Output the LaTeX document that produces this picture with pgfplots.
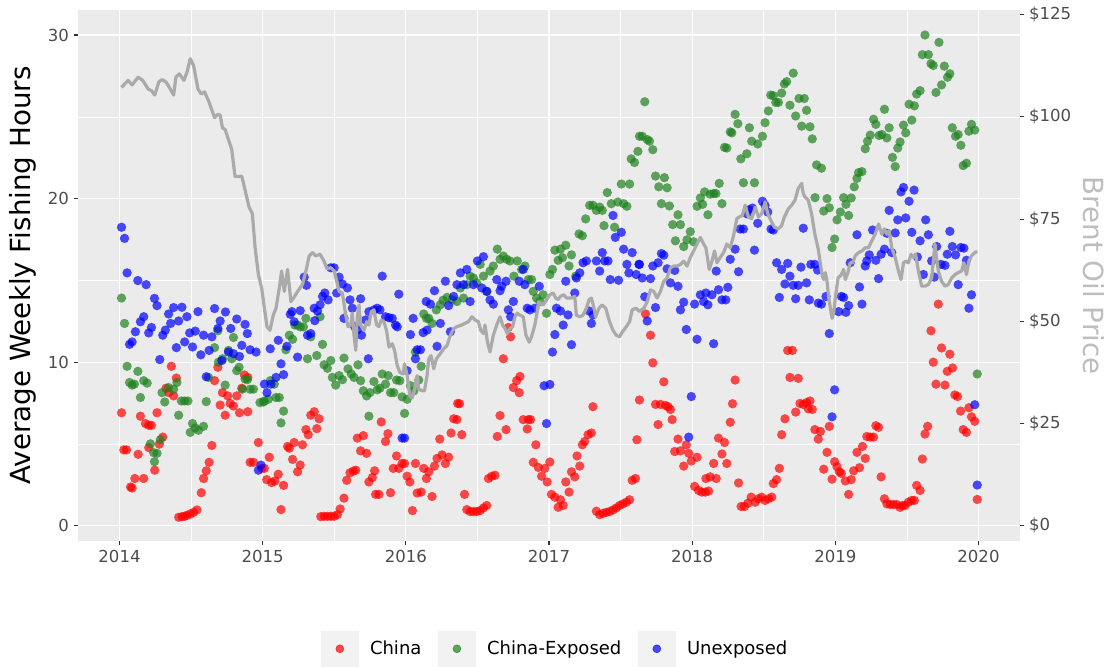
\documentclass[border=0pt]{standalone}
\usepackage{fontspec}
\setmainfont{DejaVu Sans}
\usepackage{pgfplots}
\usepackage{pgfplotstable}
\pgfplotsset{compat=1.18}

\definecolor{panelbg}{RGB}{235,235,235}
\definecolor{keybg}{RGB}{242,242,242}
\definecolor{labelcol}{RGB}{77,77,77}
\definecolor{tickcol}{RGB}{51,51,51}
\definecolor{oilcol}{RGB}{170,170,170}
\definecolor{oillab}{RGB}{190,190,190}
\definecolor{chinared}{RGB}{255,0,0}
\definecolor{expgreen}{RGB}{30,130,30}
\definecolor{unexblue}{RGB}{0,0,255}

\pgfplotsset{
  keyimg/.style={legend image code/.code={
      \fill[keybg,opacity=1] (0pt,-13.5pt) rectangle (27.75pt,13.5pt);
      \fill[#1,opacity=0.7] (13.9pt,0pt) circle (3pt);}},
  dots/.style={only marks, mark=*, mark size=3.5pt,
      mark options={fill=#1, fill opacity=0.7, draw opacity=0}, keyimg=#1},
}

% China
\pgfplotstableread{
t h
2014.014 6.91
2014.030 4.64
2014.049 4.64
2014.077 2.37
2014.088 2.31
2014.107 2.89
2014.130 4.37
2014.146 6.70
2014.169 2.89
2014.181 6.25
2014.204 6.14
2014.223 6.14
2014.204 4.78
2014.246 3.40
2014.262 6.91
2014.278 4.99
2014.302 5.42
2014.325 8.41
2014.343 8.14
2014.362 9.75
2014.378 7.94
2014.397 9.03
2014.413 0.52
2014.436 0.56
2014.455 0.58
2014.471 0.64
2014.494 0.72
2014.517 0.82
2014.541 0.97
2014.571 2.02
2014.587 2.89
2014.606 3.36
2014.626 3.88
2014.645 4.91
2014.664 8.87
2014.687 9.69
2014.703 7.38
2014.719 8.14
2014.738 6.76
2014.756 7.94
2014.773 7.48
2014.796 7.32
2014.819 7.94
2014.838 6.91
2014.854 8.41
2014.872 9.22
2014.896 9.07
2014.896 6.97
2014.912 3.88
2014.935 3.88
2014.970 5.09
2014.993 3.51
2015.012 3.51
2015.028 2.82
2015.046 4.19
2015.063 2.64
2015.086 2.74
2015.109 3.15
2015.128 0.99
2015.146 2.47
2015.174 4.85
2015.186 4.74
2015.209 4.06
2015.220 5.09
2015.244 3.30
2015.262 3.71
2015.278 4.95
2015.302 5.88
2015.318 5.57
2015.336 6.76
2015.360 6.97
2015.378 5.94
2015.394 6.54
2015.406 0.56
2015.429 0.58
2015.452 0.58
2015.476 0.58
2015.499 0.58
2015.522 0.68
2015.541 1.03
2015.568 1.69
2015.587 2.78
2015.610 3.24
2015.633 3.34
2015.650 3.40
2015.661 5.36
2015.684 4.58
2015.703 5.51
2015.726 4.43
2015.742 2.68
2015.766 2.95
2015.782 3.36
2015.789 1.92
2015.812 1.92
2015.828 6.35
2015.858 5.15
2015.875 5.63
2015.893 2.02
2015.912 3.51
2015.935 4.27
2015.951 3.51
2015.974 3.81
2015.991 3.81
2016.009 3.03
2016.028 2.68
2016.046 0.93
2016.067 3.81
2016.079 2.00
2016.107 2.06
2016.125 3.51
2016.144 2.89
2016.160 3.30
2016.183 1.79
2016.200 3.65
2016.218 4.12
2016.237 5.30
2016.253 4.33
2016.276 3.81
2016.299 4.19
2016.316 5.67
2016.334 6.54
2016.357 6.49
2016.362 7.48
2016.375 7.46
2016.391 5.57
2016.410 1.92
2016.426 0.99
2016.449 0.87
2016.472 0.87
2016.495 0.87
2016.519 0.93
2016.542 1.09
2016.565 1.24
2016.577 2.89
2016.600 3.03
2016.623 3.09
2016.639 5.46
2016.658 6.74
2016.681 10.21
2016.700 5.88
2016.716 12.12
2016.732 11.55
2016.751 8.45
2016.774 8.87
2016.792 8.14
2016.797 9.13
2016.820 6.49
2016.848 5.92
2016.855 6.49
2016.871 6.49
2016.890 3.88
2016.908 4.95
2016.925 3.57
2016.948 3.03
2016.971 3.51
2016.987 2.68
2017.006 3.90
2017.017 1.92
2017.041 1.75
2017.064 1.13
2017.080 1.59
2017.099 1.24
2017.117 2.68
2017.140 2.06
2017.157 3.30
2017.180 2.99
2017.196 4.27
2017.215 3.65
2017.233 4.95
2017.249 5.15
2017.273 5.57
2017.296 5.67
2017.307 7.28
2017.331 0.89
2017.354 0.68
2017.377 0.76
2017.400 0.82
2017.423 0.87
2017.447 0.97
2017.470 1.09
2017.493 1.24
2017.516 1.34
2017.540 1.44
2017.563 1.59
2017.581 2.78
2017.604 2.89
2017.614 5.26
2017.632 7.69
2017.674 12.95
2017.709 11.65
2017.725 9.96
2017.744 7.42
2017.762 6.19
2017.778 7.42
2017.802 8.80
2017.813 7.36
2017.832 7.28
2017.848 7.11
2017.860 6.49
2017.878 4.54
2017.901 5.30
2017.918 4.58
2017.941 3.65
2017.959 4.95
2017.976 4.43
2017.994 3.96
2018.017 2.41
2018.034 4.19
2018.045 2.16
2018.068 2.06
2018.092 2.06
2018.096 2.89
2018.115 2.12
2018.126 2.99
2018.150 3.81
2018.168 2.89
2018.184 5.36
2018.208 4.39
2018.226 5.09
2018.242 3.81
2018.266 6.33
2018.282 7.46
2018.300 8.91
2018.324 2.62
2018.342 1.18
2018.365 1.18
2018.389 1.38
2018.412 1.75
2018.440 1.44
2018.463 1.65
2018.486 1.75
2018.509 1.55
2018.532 1.65
2018.556 1.75
2018.567 2.58
2018.590 2.82
2018.609 3.51
2018.625 5.57
2018.648 6.54
2018.667 10.72
2018.700 10.72
2018.683 9.07
2018.741 9.01
2018.723 6.95
2018.753 7.48
2018.776 7.42
2018.799 7.53
2018.823 7.63
2018.811 7.15
2018.839 7.11
2018.857 5.88
2018.881 5.30
2018.896 5.77
2018.919 3.46
2018.942 4.49
2018.958 6.08
2018.977 2.85
2018.995 3.92
2019.012 3.61
2019.028 3.30
2019.042 3.20
2019.070 2.74
2019.093 1.92
2019.111 2.82
2019.128 3.36
2019.151 4.49
2019.169 3.55
2019.190 4.85
2019.209 4.12
2019.220 5.46
2019.244 5.42
2019.267 5.42
2019.283 6.12
2019.302 6.02
2019.320 2.99
2019.343 1.65
2019.360 1.34
2019.383 1.30
2019.406 1.30
2019.429 1.30
2019.452 1.13
2019.469 1.24
2019.487 1.24
2019.510 1.44
2019.534 1.55
2019.552 1.55
2019.568 2.47
2019.592 2.16
2019.608 4.08
2019.626 5.61
2019.645 6.08
2019.668 11.92
2019.684 10.00
2019.703 8.66
2019.719 13.55
2019.742 10.87
2019.766 8.60
2019.782 9.44
2019.800 10.49
2019.819 9.65
2019.835 8.00
2019.854 7.90
2019.875 7.01
2019.893 5.88
2019.916 5.71
2019.933 7.22
2019.951 6.66
2019.974 6.39
2019.991 1.61
}\chinadata

% China-Exposed
\pgfplotstableread{
t h
2014.014 13.92
2014.035 12.37
2014.053 9.75
2014.128 9.44
2014.070 8.76
2014.088 8.60
2014.104 8.66
2014.146 7.84
2014.169 8.87
2014.193 8.72
2014.216 5.01
2014.239 4.47
2014.262 4.43
2014.244 3.92
2014.285 5.26
2014.297 8.14
2014.316 7.57
2014.343 8.45
2014.378 8.35
2014.401 8.76
2014.413 6.76
2014.432 7.63
2014.455 7.63
2014.478 7.63
2014.510 6.25
2014.494 5.71
2014.529 5.98
2014.552 5.84
2014.587 6.08
2014.606 7.59
2014.622 9.07
2014.664 10.89
2014.687 11.92
2014.691 10.00
2014.719 10.21
2014.738 8.60
2014.761 10.72
2014.784 10.21
2014.796 11.51
2014.819 9.48
2014.835 9.69
2014.858 8.35
2014.877 8.97
2014.893 8.93
2014.912 8.35
2014.935 8.35
2014.981 7.53
2015.005 7.57
2015.012 7.63
2015.039 7.73
2015.053 8.87
2015.081 8.66
2015.093 7.84
2015.116 7.84
2015.128 6.29
2015.146 7.01
2015.162 10.76
2015.186 11.65
2015.209 11.40
2015.225 12.27
2015.244 12.27
2015.262 12.16
2015.285 12.16
2015.302 12.68
2015.313 10.21
2015.336 11.55
2015.378 10.41
2015.401 12.78
2015.418 11.09
2015.429 9.84
2015.452 9.63
2015.476 10.10
2015.487 9.07
2015.510 8.60
2015.534 9.18
2015.557 8.93
2015.568 10.25
2015.596 9.59
2015.619 9.28
2015.638 9.07
2015.666 9.84
2015.684 8.87
2015.703 8.25
2015.726 7.94
2015.742 6.70
2015.749 8.14
2015.777 8.82
2015.800 8.31
2015.819 8.41
2015.835 9.28
2015.858 8.66
2015.877 9.18
2015.893 8.14
2015.916 8.14
2015.935 8.91
2015.958 8.87
2015.974 7.88
2015.991 6.87
2016.009 7.73
2016.032 8.56
2016.056 8.25
2016.067 10.62
2016.090 8.91
2016.107 9.75
2016.125 12.95
2016.144 12.68
2016.160 12.68
2016.183 12.37
2016.213 13.20
2016.241 13.51
2016.260 13.79
2016.288 13.96
2016.323 13.81
2016.357 13.71
2016.381 14.54
2016.403 13.92
2016.426 14.74
2016.449 15.26
2016.472 15.15
2016.495 14.85
2016.519 15.98
2016.542 15.26
2016.565 14.33
2016.588 15.57
2016.611 15.88
2016.639 16.91
2016.658 16.29
2016.681 16.49
2016.704 16.29
2016.727 16.19
2016.755 15.26
2016.778 16.19
2016.809 15.67
2016.832 15.88
2016.855 15.05
2016.878 15.05
2016.890 14.33
2016.913 13.92
2016.936 13.71
2016.959 14.12
2016.983 12.99
2017.006 15.36
2017.024 15.67
2017.041 16.85
2017.064 16.23
2017.080 16.91
2017.094 16.39
2017.117 17.15
2017.140 15.88
2017.157 16.56
2017.187 15.26
2017.210 17.84
2017.233 17.73
2017.256 18.76
2017.284 19.59
2017.307 19.59
2017.331 19.28
2017.354 19.48
2017.372 19.28
2017.384 18.35
2017.407 20.37
2017.435 19.69
2017.458 18.25
2017.481 19.79
2017.505 20.89
2017.521 19.69
2017.544 19.53
2017.563 20.89
2017.574 22.43
2017.597 22.21
2017.621 22.89
2017.632 23.81
2017.651 23.81
2017.669 25.92
2017.686 23.61
2017.702 23.51
2017.725 22.99
2017.744 21.38
2017.767 20.72
2017.785 19.69
2017.806 21.28
2017.825 20.66
2017.841 19.55
2017.864 18.41
2017.883 17.42
2017.901 19.01
2017.918 18.41
2017.941 17.07
2017.964 17.48
2017.987 17.98
2018.010 17.36
2018.034 19.53
2018.057 20.04
2018.073 19.65
2018.087 20.41
2018.110 19.01
2018.126 20.27
2018.150 20.31
2018.166 20.31
2018.189 20.93
2018.208 19.69
2018.226 23.13
2018.242 23.09
2018.266 24.08
2018.277 24.02
2018.300 25.15
2018.319 24.58
2018.340 22.43
2018.358 20.97
2018.382 22.74
2018.400 24.33
2018.416 23.51
2018.435 20.97
2018.458 23.34
2018.491 23.81
2018.509 24.64
2018.532 25.36
2018.549 26.33
2018.567 26.29
2018.584 25.88
2018.602 25.88
2018.625 26.45
2018.644 27.01
2018.660 27.15
2018.683 25.71
2018.706 27.67
2018.723 25.05
2018.746 26.12
2018.765 24.43
2018.783 26.12
2018.799 25.40
2018.823 24.39
2018.839 23.65
2018.869 22.06
2018.858 20.06
2018.903 21.86
2018.919 19.24
2018.942 20.00
2018.958 19.44
2018.977 17.01
2018.995 17.53
2019.012 18.70
2019.035 19.18
2019.058 20.06
2019.074 19.65
2019.093 18.97
2019.111 20.04
2019.132 20.72
2019.151 21.24
2019.162 21.59
2019.186 21.65
2019.209 23.05
2019.225 23.51
2019.244 23.88
2019.267 24.85
2019.283 24.54
2019.306 23.86
2019.325 23.92
2019.343 25.46
2019.360 23.71
2019.376 24.33
2019.399 22.52
2019.418 21.96
2019.436 23.09
2019.452 23.46
2019.476 24.49
2019.492 24.02
2019.515 25.77
2019.534 24.80
2019.552 25.67
2019.568 26.39
2019.592 26.60
2019.608 28.80
2019.626 30.00
2019.650 28.80
2019.668 28.25
2019.684 28.14
2019.703 26.49
2019.724 29.55
2019.742 26.95
2019.761 28.10
2019.784 27.42
2019.800 27.63
2019.817 24.33
2019.840 23.81
2019.858 23.92
2019.877 23.26
2019.893 22.02
2019.916 22.16
2019.933 24.12
2019.951 24.54
2019.974 24.19
2019.991 9.28
}\exposeddata

% Unexposed
\pgfplotstableread{
t h
2014.014 18.25
2014.035 17.57
2014.053 15.46
2014.128 14.99
2014.186 14.74
2014.244 13.90
2014.262 13.46
2014.343 12.95
2014.378 13.34
2014.436 13.36
2014.169 12.78
2014.146 12.47
2014.223 12.12
2014.204 11.79
2014.111 11.86
2014.088 11.24
2014.070 11.09
2014.320 11.96
2014.302 11.65
2014.357 12.37
2014.413 12.52
2014.471 12.78
2014.548 13.09
2014.664 13.28
2014.740 13.07
2014.819 12.64
2014.877 12.31
2014.893 11.75
2014.703 12.52
2014.687 12.06
2014.777 12.06
2014.490 11.79
2014.529 11.90
2014.587 11.65
2014.645 11.55
2014.455 11.24
2014.397 10.89
2014.510 10.93
2014.568 10.45
2014.626 10.72
2014.854 11.03
2014.912 10.76
2014.954 10.62
2014.761 10.62
2014.796 10.52
2014.838 10.35
2014.715 10.10
2014.281 10.16
2014.606 9.11
2014.970 3.40
2014.988 3.71
2015.012 8.66
2015.030 8.14
2015.058 8.66
2015.093 9.07
2015.128 9.90
2015.146 9.24
2015.053 10.82
2015.109 11.34
2015.169 10.97
2015.244 10.31
2015.313 11.65
2015.336 11.75
2015.364 12.54
2015.360 13.30
2015.383 13.13
2015.401 13.51
2015.418 14.02
2015.434 14.23
2015.457 13.81
2015.193 12.93
2015.204 13.09
2015.262 13.15
2015.220 12.47
2015.290 15.20
2015.306 14.70
2015.476 15.77
2015.499 15.77
2015.534 15.20
2015.557 14.78
2015.592 14.54
2015.517 14.23
2015.610 13.81
2015.626 13.30
2015.684 13.88
2015.568 12.68
2015.661 11.96
2015.643 12.16
2015.690 11.65
2015.719 12.58
2015.742 13.09
2015.777 13.20
2015.800 13.30
2015.819 13.20
2015.858 12.78
2015.882 12.72
2015.905 12.68
2015.928 12.27
2015.940 12.16
2015.835 15.26
2015.951 14.16
2016.051 12.68
2016.032 11.69
2015.738 10.21
2016.009 9.48
2016.079 10.76
2016.102 10.76
2016.067 10.21
2016.121 11.81
2016.148 11.96
2016.142 13.71
2016.172 13.55
2016.200 14.37
2016.241 12.37
2016.218 10.97
2016.276 14.95
2016.299 13.46
2016.311 11.86
2016.334 14.02
2016.357 14.74
2016.381 15.46
2015.974 5.36
2015.991 5.36
2016.426 15.67
2016.403 14.74
2016.449 13.71
2016.472 14.74
2016.500 16.19
2016.542 16.45
2016.530 14.54
2016.565 14.33
2016.588 13.81
2016.611 13.55
2016.635 15.05
2016.658 14.37
2016.669 14.64
2016.700 14.95
2016.716 13.20
2016.732 12.78
2016.751 13.71
2016.792 14.95
2016.820 15.67
2016.831 14.74
2016.848 13.30
2016.867 13.20
2016.901 13.30
2016.932 14.64
2016.966 8.56
2017.006 8.64
2016.983 6.25
2017.024 10.62
2017.041 11.69
2017.052 13.30
2017.080 13.13
2017.099 12.27
2017.133 12.89
2017.117 14.95
2017.157 11.07
2017.180 14.23
2017.191 15.15
2017.215 15.46
2017.238 16.08
2017.261 16.19
2017.280 13.13
2017.296 12.37
2017.307 12.89
2017.331 16.19
2017.354 15.57
2017.372 16.70
2017.389 16.19
2017.412 16.19
2017.428 15.05
2017.447 18.97
2017.463 17.63
2017.486 15.01
2017.505 17.94
2017.521 16.91
2017.544 15.98
2017.558 15.46
2017.581 16.70
2017.609 15.36
2017.628 15.98
2017.632 15.98
2017.651 15.15
2017.709 15.11
2017.669 14.00
2017.686 12.52
2017.744 13.34
2017.725 15.88
2017.762 16.08
2017.785 16.64
2017.802 16.54
2017.825 15.71
2017.848 14.85
2017.878 15.61
2017.901 14.64
2017.941 13.67
2017.918 13.20
2017.959 12.00
2017.976 5.42
2017.994 7.90
2018.034 11.40
2018.017 13.55
2018.057 14.12
2018.080 13.71
2018.096 14.23
2018.110 13.51
2018.138 14.12
2018.150 11.13
2018.184 14.43
2018.208 13.81
2018.235 13.81
2018.249 14.58
2018.168 15.57
2018.266 16.29
2018.300 16.91
2018.324 15.53
2018.335 18.14
2018.358 18.14
2018.382 19.07
2018.398 19.32
2018.421 19.42
2018.435 16.85
2018.458 18.49
2018.491 19.84
2018.509 19.59
2018.528 19.18
2018.551 18.14
2018.567 18.08
2018.590 16.08
2018.609 13.96
2018.625 15.67
2018.648 14.78
2018.667 16.04
2018.683 15.26
2018.706 14.70
2018.723 13.88
2018.741 14.70
2018.760 15.81
2018.776 18.19
2018.799 14.85
2018.818 13.81
2018.829 15.98
2018.857 15.98
2018.876 15.63
2018.881 13.61
2018.903 13.55
2018.935 14.02
2018.958 11.75
2018.977 6.66
2018.995 8.31
2019.023 13.09
2019.042 14.02
2019.058 13.96
2019.074 13.05
2019.093 13.46
2019.104 16.08
2019.151 17.79
2019.169 14.60
2019.186 13.55
2019.209 15.88
2019.220 16.19
2019.237 16.56
2019.260 18.08
2019.283 16.23
2019.302 15.11
2019.320 16.60
2019.343 16.91
2019.360 17.88
2019.376 19.28
2019.394 16.70
2019.418 17.90
2019.436 18.70
2019.459 20.41
2019.476 20.68
2019.492 18.82
2019.515 19.84
2019.550 20.52
2019.534 17.94
2019.573 16.43
2019.592 17.42
2019.615 15.36
2019.631 18.70
2019.650 17.79
2019.673 16.19
2019.691 15.20
2019.708 17.07
2019.738 15.98
2019.766 15.92
2019.782 16.60
2019.800 18.00
2019.817 17.07
2019.840 16.56
2019.858 14.74
2019.877 17.01
2019.898 16.97
2019.916 16.23
2019.933 13.30
2019.951 14.12
2019.974 7.40
2019.991 2.49
}\unexposeddata

% Brent oil price (USD)
\pgfplotstableread{
t p
2014.014 107.2
2014.060 108.9
2014.088 107.8
2014.130 109.7
2014.162 108.9
2014.200 106.8
2014.223 106.4
2014.246 105.3
2014.274 108.5
2014.297 109.1
2014.325 108.5
2014.348 107.2
2014.378 105.3
2014.394 109.7
2014.418 110.5
2014.450 108.9
2014.471 110.9
2014.494 114.2
2014.517 112.6
2014.548 106.8
2014.571 105.6
2014.594 106.1
2014.622 103.9
2014.664 99.8
2014.687 100.6
2014.703 100.4
2014.719 97.3
2014.738 96.9
2014.761 94.4
2014.784 92.0
2014.807 85.4
2014.831 85.4
2014.854 85.5
2014.877 82.1
2014.905 77.9
2014.928 76.3
2014.947 68.0
2014.970 61.4
2014.993 58.1
2015.012 53.2
2015.030 48.7
2015.051 47.8
2015.074 51.5
2015.093 53.2
2015.116 58.1
2015.132 62.3
2015.151 57.3
2015.174 62.7
2015.197 54.8
2015.216 55.7
2015.244 57.3
2015.278 59.0
2015.302 62.3
2015.325 66.0
2015.348 66.8
2015.371 66.0
2015.401 66.4
2015.429 64.7
2015.448 62.9
2015.476 63.1
2015.499 62.3
2015.517 59.8
2015.534 57.3
2015.557 56.9
2015.580 51.5
2015.596 48.7
2015.615 49.1
2015.626 52.0
2015.638 46.6
2015.650 42.9
2015.661 51.1
2015.673 54.0
2015.684 49.1
2015.708 47.8
2015.726 49.9
2015.742 49.1
2015.759 52.4
2015.777 52.8
2015.796 49.1
2015.812 48.7
2015.828 50.3
2015.847 49.9
2015.865 47.8
2015.882 43.7
2015.905 44.5
2015.921 42.9
2015.940 39.2
2015.958 37.5
2015.981 37.1
2015.991 39.6
2016.009 36.7
2016.028 31.8
2016.044 31.3
2016.056 32.6
2016.079 36.7
2016.090 33.4
2016.114 33.0
2016.130 33.0
2016.148 36.7
2016.160 40.8
2016.176 41.6
2016.195 38.4
2016.213 40.8
2016.241 42.1
2016.265 43.3
2016.288 44.1
2016.311 46.6
2016.334 48.2
2016.357 48.7
2016.391 49.1
2016.414 49.5
2016.437 49.9
2016.461 51.1
2016.484 50.3
2016.507 49.9
2016.523 47.8
2016.542 47.0
2016.553 49.1
2016.570 44.9
2016.588 42.5
2016.611 46.6
2016.635 49.1
2016.658 51.1
2016.676 49.1
2016.693 48.2
2016.709 47.0
2016.727 48.2
2016.746 48.7
2016.762 51.1
2016.778 52.0
2016.797 51.5
2016.820 51.1
2016.839 46.6
2016.862 44.9
2016.878 46.2
2016.901 49.1
2016.918 52.4
2016.927 54.8
2016.941 54.4
2016.959 54.0
2016.983 55.3
2017.006 56.5
2017.029 56.9
2017.047 55.7
2017.064 55.3
2017.080 56.1
2017.103 56.5
2017.122 55.7
2017.157 55.7
2017.180 56.1
2017.191 51.5
2017.215 51.1
2017.238 51.5
2017.261 53.2
2017.280 55.3
2017.296 55.7
2017.312 53.6
2017.326 51.1
2017.349 53.2
2017.372 54.0
2017.396 53.2
2017.423 49.9
2017.447 47.8
2017.470 46.6
2017.493 46.2
2017.512 47.4
2017.540 48.7
2017.563 49.9
2017.581 52.8
2017.609 53.2
2017.632 52.4
2017.662 53.2
2017.686 54.8
2017.709 57.7
2017.732 57.3
2017.755 55.7
2017.778 57.3
2017.802 59.8
2017.825 60.6
2017.848 63.1
2017.871 63.5
2017.894 63.5
2017.918 63.9
2017.941 64.7
2017.964 63.5
2017.987 65.6
2018.010 67.2
2018.034 68.9
2018.057 70.5
2018.080 68.9
2018.096 68.0
2018.119 62.7
2018.138 64.7
2018.156 67.2
2018.173 64.3
2018.196 65.6
2018.219 66.8
2018.242 68.9
2018.266 68.0
2018.289 70.9
2018.312 75.1
2018.328 75.5
2018.351 75.9
2018.370 78.4
2018.393 75.5
2018.416 75.1
2018.440 77.9
2018.463 75.5
2018.486 76.3
2018.509 79.2
2018.528 76.3
2018.551 74.6
2018.574 73.0
2018.602 72.6
2018.625 73.4
2018.644 75.5
2018.672 77.5
2018.695 78.4
2018.718 79.6
2018.741 82.5
2018.765 83.7
2018.776 81.2
2018.788 80.4
2018.811 79.6
2018.834 76.3
2018.857 71.3
2018.881 67.6
2018.907 61.4
2018.919 60.2
2018.930 61.9
2018.942 59.8
2018.954 55.7
2018.977 50.7
2018.988 52.0
2019.000 55.7
2019.019 60.6
2019.042 61.4
2019.058 62.7
2019.070 60.2
2019.088 61.9
2019.104 64.3
2019.121 64.3
2019.139 66.0
2019.162 66.8
2019.186 67.2
2019.209 68.0
2019.232 68.0
2019.255 69.7
2019.278 71.3
2019.302 73.8
2019.325 71.3
2019.343 72.6
2019.360 71.3
2019.376 72.2
2019.394 68.0
2019.418 65.6
2019.441 62.3
2019.459 60.2
2019.476 64.3
2019.492 64.7
2019.510 64.3
2019.529 66.4
2019.545 65.6
2019.561 66.4
2019.580 62.3
2019.603 58.6
2019.626 58.6
2019.650 59.0
2019.673 60.6
2019.696 68.9
2019.708 65.2
2019.719 62.3
2019.742 59.8
2019.766 58.6
2019.789 59.0
2019.812 60.6
2019.835 61.4
2019.858 61.9
2019.882 62.3
2019.898 64.3
2019.916 61.4
2019.933 64.7
2019.951 66.0
2019.974 66.8
2019.991 67.1
}\oildata

\begin{document}
\begin{tikzpicture}
\fill[white] (-58.5pt,-94.5pt) rectangle (777.75pt,405.75pt);

\begin{axis}[
  at={(0pt,0pt)}, anchor=south west,
  scale only axis, width=706.5pt, height=398.25pt,
  xmin=2013.71, xmax=2020.29, ymin=-0.93, ymax=31.53,
  axis background/.style={fill=panelbg},
  axis line style={draw=none},
  xtick={2014,2015,2016,2017,2018,2019,2020},
  xticklabels={2014,2015,2016,2017,2018,2019,2020},
  ytick={0,10,20,30}, yticklabels={0,10,20,30},
  minor xtick={2014.5,2015.5,2016.5,2017.5,2018.5,2019.5},
  minor ytick={5,15,25},
  grid=both,
  major grid style={white, line width=0.85pt},
  minor grid style={white, line width=0.42pt},
  tick align=outside, major tick length=3.3pt, minor tick length=0pt,
  major tick style={color=tickcol, line width=0.8pt},
  xtick pos=bottom, ytick pos=left,
  ticklabel style={font=\fontsize{12.4}{14}\selectfont, text=labelcol},
  ylabel={Average Weekly Fishing Hours},
  ylabel style={font=\fontsize{20.8}{24}\selectfont, text=black,
    at={(axis description cs:-0.0584,0.5)}, anchor=center},
  legend columns=3,
  legend style={at={(axis description cs:0.5055,-0.203)}, anchor=center,
    draw=none, fill=none, font=\fontsize{13.5}{16}\selectfont,
    nodes={inner sep=0pt},
    /tikz/every odd column/.append style={column sep=8.6pt},
    /tikz/every even column/.append style={column sep=12.5pt}},
  legend cell align=left,
]
\addplot[dots=chinared] table[x=t, y=h] {\chinadata};
\addlegendentry{China}
\addplot[dots=expgreen] table[x=t, y=h] {\exposeddata};
\addlegendentry{China-Exposed}
\addplot[dots=unexblue] table[x=t, y=h] {\unexposeddata};
\addlegendentry{Unexposed}
\end{axis}

\begin{axis}[
  at={(0pt,0pt)}, anchor=south west,
  scale only axis, width=706.5pt, height=398.25pt,
  xmin=2013.71, xmax=2020.29, ymin=-3.72, ymax=126.12,
  axis x line=none, axis y line*=right,
  axis line style={draw=none},
  ytick={0,25,50,75,100,125},
  yticklabels={\$0,\$25,\$50,\$75,\$100,\$125},
  tick align=outside, major tick length=3.3pt,
  major tick style={color=tickcol, line width=0.8pt},
  ticklabel style={font=\fontsize{12.4}{14}\selectfont, text=labelcol},
  ylabel={Brent Oil Price},
  ylabel style={font=\fontsize{20.8}{24}\selectfont, text=oillab,
    at={(axis description cs:1.0786,0.5)}, anchor=center, rotate=180},
]
\addplot[oilcol, line width=2.4pt, line join=round, mark=none] table[x=t, y=p] {\oildata};
\end{axis}

\pgfresetboundingbox
\path[use as bounding box] (-58.5pt,-94.5pt) rectangle (777.75pt,405.75pt);
\end{tikzpicture}
\end{document}
